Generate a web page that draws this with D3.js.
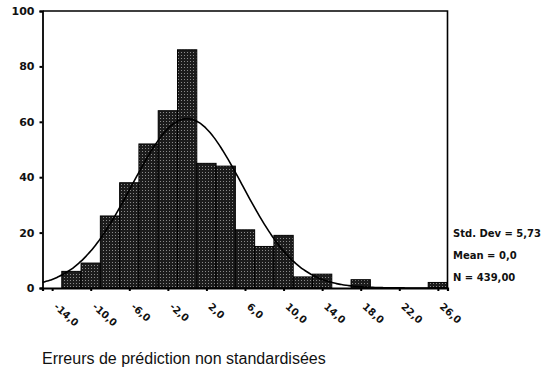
<!DOCTYPE html>
<html>
<head>
<meta charset="utf-8">
<script src="https://cdn.jsdelivr.net/npm/d3@7/dist/d3.min.js"></script>
<style>
  html, body { margin: 0; padding: 0; background: #fff; }
  svg { display: block; }
</style>
</head>
<body>
<svg id="chart" width="557" height="368"></svg>
<script>
// Histogram of unstandardised prediction errors, bin width 2
const binCenters = [-14, -12, -10, -8, -6, -4, -2, 0, 2, 4, 6, 8, 10, 12, 14, 16, 18, 20, 22, 24, 26];
const binCounts  = [0, 6, 9, 26, 38, 52, 64, 86, 45, 44, 21, 15, 19, 4, 5, 0, 3, 0, 0, 0, 2];
const binWidth = 2;
const xTickValues = [-14, -10, -6, -2, 2, 6, 10, 14, 18, 22, 26];
const yTickValues = [0, 20, 40, 60, 80, 100];
const statStdDev = 5.73;
const statMean = 0.0;
const statN = 439;
const axisTitle = "Erreurs de prédiction non standardisées";

const fmtFr = (v, d) => v.toFixed(d).replace(".", ",");
const boldFont = "'DejaVu Sans', Verdana, sans-serif";
const plainFont = "'Liberation Sans', Arial, sans-serif";

const svg = d3.select("#chart");

const x = d3.scaleLinear().domain([-15, 27]).range([42.5, 447.5]);
const y = d3.scaleLinear().domain([0, 100]).range([288, 11]);

// stippled dark fill for the bars
const defs = svg.append("defs");
const pat = defs.append("pattern")
  .attr("id", "stipple")
  .attr("width", 3).attr("height", 3)
  .attr("patternUnits", "userSpaceOnUse");
pat.append("rect").attr("width", 3).attr("height", 3).attr("fill", "#1c1c1c");
pat.append("rect").attr("x", 1).attr("y", 1).attr("width", 1).attr("height", 1).attr("fill", "#8a8a8a");

// bars
svg.append("g").selectAll("rect")
  .data(binCenters.map((c, i) => ({ c, n: binCounts[i] })).filter(d => d.n > 0))
  .join("rect")
  .attr("x", d => x(d.c - binWidth / 2))
  .attr("width", d => x(d.c + binWidth / 2) - x(d.c - binWidth / 2))
  .attr("y", d => y(d.n))
  .attr("height", d => y(0) - y(d.n))
  .attr("fill", "url(#stipple)")
  .attr("stroke", "#000")
  .attr("stroke-width", 1);

// fitted normal curve from the stated mean, std. dev and N
const peak = statN * binWidth / (statStdDev * Math.sqrt(2 * Math.PI));
const curvePts = d3.range(-15, 27.001, 0.25).map(v => [v, peak * Math.exp(-0.5 * ((v - statMean) / statStdDev) ** 2)]);
svg.append("path")
  .datum(curvePts)
  .attr("fill", "none")
  .attr("stroke", "#000")
  .attr("stroke-width", 1.6)
  .attr("d", d3.line().x(d => x(d[0])).y(d => y(d[1])).curve(d3.curveBasis));

// frame: top and right edges
svg.append("path")
  .attr("d", `M${x(-15)},${y(100)}H${x(27)}V${y(0)}`)
  .attr("fill", "none").attr("stroke", "#000").attr("stroke-width", 1.6);

// y axis
const yAxis = svg.append("g")
  .attr("transform", `translate(${x(-15)},0)`)
  .call(d3.axisLeft(y).tickValues(yTickValues).tickSize(3).tickPadding(5).tickFormat(d3.format("d")));
yAxis.select(".domain").attr("stroke-width", 1.8);
yAxis.selectAll(".tick line").attr("stroke-width", 2);
yAxis.selectAll("text")
  .style("font-family", boldFont)
  .style("font-size", "11px").style("font-weight", "bold")
  .attr("fill", "#111");

// x axis
const xAxis = svg.append("g")
  .attr("transform", `translate(0,${y(0)})`)
  .call(d3.axisBottom(x).tickValues(xTickValues).tickSize(3).tickFormat(d => fmtFr(d, 1)));
xAxis.select(".domain").attr("stroke-width", 2.2);
xAxis.selectAll(".tick line").attr("stroke-width", 2);
xAxis.selectAll("text")
  .style("font-family", boldFont)
  .style("font-size", "10px").style("font-weight", "bold")
  .attr("fill", "#111")
  .attr("text-anchor", "start")
  .attr("x", 0).attr("y", 0).attr("dy", "0.35em")
  .attr("transform", "translate(3,17) rotate(42)");

// summary statistics
const stats = [
  `Std. Dev = ${fmtFr(statStdDev, 2)}`,
  `Mean = ${fmtFr(statMean, 1)}`,
  `N = ${fmtFr(statN, 2)}`
];
svg.append("g").selectAll("text")
  .data(stats)
  .join("text")
  .attr("x", 453)
  .attr("y", (d, i) => 237 + i * 22)
  .style("font-family", boldFont)
  .style("font-size", "10px").style("font-weight", "bold")
  .attr("fill", "#111")
  .text(d => d);

// axis title
svg.append("text")
  .attr("x", 42).attr("y", 363.5)
  .style("font-family", plainFont)
  .style("font-size", "16px")
  .attr("fill", "#111")
  .text(axisTitle);
</script>
</body>
</html>
